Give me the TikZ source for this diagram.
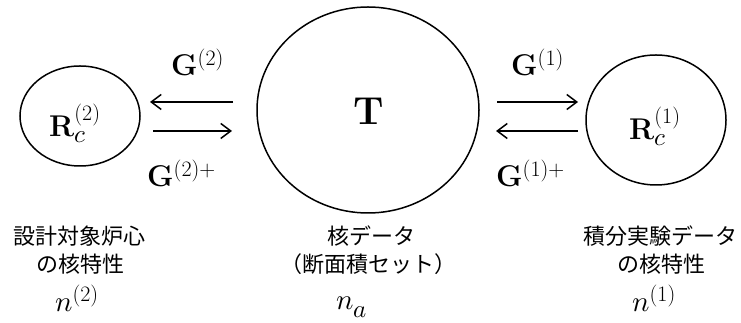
\documentclass[tikz,border=0pt]{standalone}
\usepackage{fontspec}
\usepackage{unicode-math}
\newfontfamily\jp{Noto Sans CJK JP}
\newcommand\supp[1]{^{\hbox{\fontsize{22}{24}\selectfont #1}}}
\newcommand\subb[1]{_{\hbox{\fontsize{25}{26}\selectfont$#1$}}}
\usetikzlibrary{arrows.meta,shapes.geometric}
\begin{document}
\begin{tikzpicture}[x=1pt,y=1pt,
  ell/.style={draw, line width=1.5pt, ellipse, inner sep=0pt},
  arr/.style={line width=1.5pt, -{Straight Barb[length=10pt,width=15pt,line width=1.5pt]}},
  glab/.style={anchor=base west, inner sep=0pt, font=\fontsize{30}{32}\selectfont},
  rlab/.style={anchor=base west, inner sep=0pt, font=\fontsize{30}{32}\selectfont},
  jtxt/.style={anchor=base, inner sep=0pt, font=\jp\fontsize{22}{28}\selectfont},
  nlab/.style={anchor=base, inner sep=0pt, font=\fontsize{29}{32}\selectfont}]
\useasboundingbox (0,0) rectangle (741,323);
% ellipses
\node[ell, minimum width=222pt, minimum height=206pt] (T) at (368,213) {};
\node[ell, minimum width=120pt, minimum height=100pt] (L) at (80,207) {};
\node[ell, minimum width=140pt, minimum height=130pt] (R) at (656,203) {};
\node[anchor=base, inner sep=0pt, font=\fontsize{39}{44}\selectfont] (Tl) at (369,198) {$\mathbf{T}$};
\node[rlab] (Ll) at (49,186) {$\mathbf{R}\subb{c}\supp{(2)}$};
\node[rlab] (Rl) at (629,183) {$\mathbf{R}\subb{c}\supp{(1)}$};
% arrows
\coordinate (a1s) at (233,221); \coordinate (a1e) at (150,221);
\coordinate (a2s) at (153,192); \coordinate (a2e) at (232,192);
\coordinate (a3s) at (497,221); \coordinate (a3e) at (578,221);
\coordinate (a4s) at (578,192); \coordinate (a4e) at (496,192);
\draw[arr] (a1s) -- (a1e);
\draw[arr] (a2s) -- (a2e);
\draw[arr] (a3s) -- (a3e);
\draw[arr] (a4s) -- (a4e);
% G labels
\node[glab] (g2) at (171,247) {$\mathbf{G}\supp{(2)}$};
\node[glab] (g2p) at (147,136) {$\mathbf{G}\supp{(2)+}$};
\node[glab] (g1) at (511,247) {$\mathbf{G}\supp{(1)}$};
\node[glab] (g1p) at (496,136) {$\mathbf{G}\supp{(1)+}$};
% bottom texts
\node[jtxt] (t1a) at (79,78) {設計対象炉心};
\node[jtxt] (t1b) at (80,50) {の核特性};
\node[jtxt] (t2a) at (371,78) {核データ};
\node[jtxt] (t2b) at (368,50) {（断面積セット）};
\node[jtxt] (t3a) at (660,78) {積分実験データ};
\node[jtxt] (t3b) at (661,50) {の核特性};
\node[nlab] (n2) at (77,11) {$n\supp{(2)}$};
\node[nlab] (na) at (352,13) {$n\subb{a}$};
\node[nlab] (n1) at (654,11) {$n\supp{(1)}$};
\end{tikzpicture}
\end{document}
